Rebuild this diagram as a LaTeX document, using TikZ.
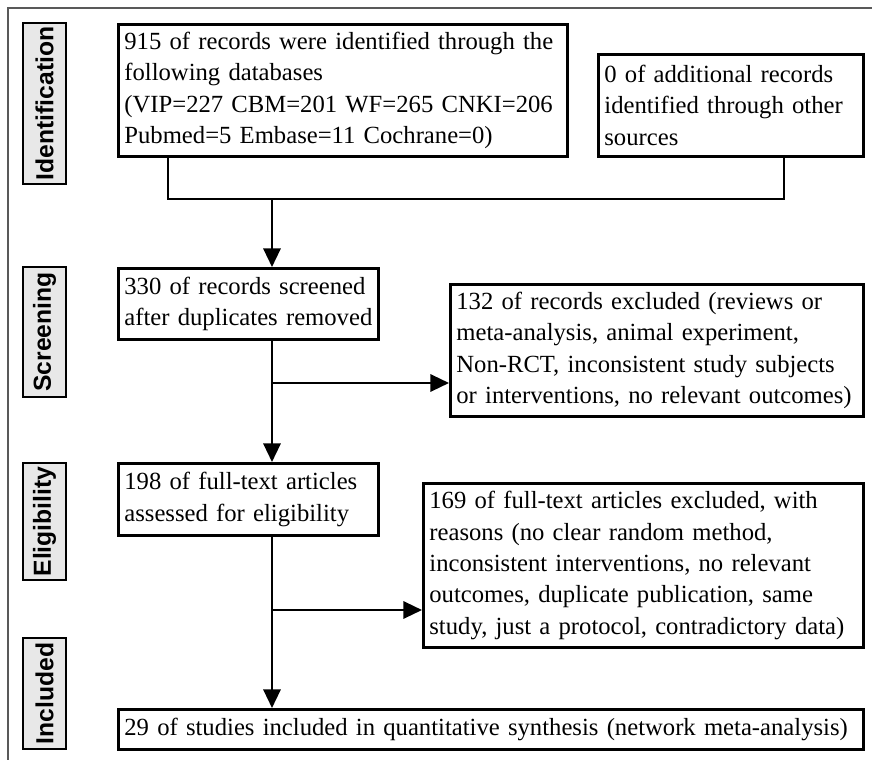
\documentclass[tikz,border=0pt]{standalone}
\usepackage{fontspec}
\setmainfont{Liberation Serif}
\setsansfont{Liberation Sans}
\usetikzlibrary{arrows.meta}

\begin{document}
\begin{tikzpicture}[x=0.75pt,y=-0.75pt,
  box/.style={draw,line width=2.1pt,anchor=north west,align=left,inner xsep=4.5pt,inner ysep=0pt,
    font=\fontsize{18.5}{23.5}\selectfont},
  phase/.style={draw,line width=2.1pt,fill=gray!18,rotate=90,inner sep=0pt,minimum height=32.25pt,
    font=\fontsize{18.5}{20}\selectfont\sffamily\bfseries},
  conn/.style={line width=1.7pt},
  arr/.style={conn,-{Triangle[length=14pt,width=13pt]}}]
\useasboundingbox (0,0) rectangle (872,760);
\draw[gray!70!black,line width=1pt] (8,760)--(8,8)--(872,8);
% phase labels
\node[phase,minimum width=120.75pt] (pid) at (44.5,103.5) {Identification};
\node[phase,minimum width=97.5pt] (pscr) at (44.5,332) {Screening};
\node[phase,minimum width=87.75pt] (pelig) at (44.5,521.5) {Eligibility};
\node[phase,minimum width=83.25pt] (pincl) at (44.5,693.5) {Included};
% boxes
\node[box,text width=327.75pt,minimum height=99pt] (id1) at (117,23)
  {915 of records were identified through the\\following databases\\(VIP=227 CBM=201 WF=265 CNKI=206\\Pubmed=5 Embase=11 Cochrane=0)};
\node[box,text width=189.75pt,minimum height=76.5pt] (id2) at (597,53)
  {0 of additional records\\identified through other\\sources};
\node[box,text width=186pt,minimum height=53.25pt] (scr) at (117,267)
  {330 of records screened\\after duplicates removed};
\node[box,text width=300.75pt,minimum height=99pt] (ex1) at (449,283)
  {132 of records excluded (reviews or\\meta-analysis, animal experiment,\\Non-RCT, inconsistent study subjects\\or interventions, no relevant outcomes)};
\node[box,text width=186pt,minimum height=54pt] (elig) at (117,462)
  {198 of full-text articles\\assessed for eligibility};
\node[box,text width=321pt,minimum height=123pt] (ex2) at (422,482)
  {169 of full-text articles excluded, with\\reasons (no clear random method,\\inconsistent interventions, no relevant\\outcomes, duplicate publication, same\\study, just a protocol, contradictory data)};
\node[box,text width=549.75pt,minimum height=30pt] (incl) at (117,708)
  {29 of studies included in quantitative synthesis (network meta-analysis)};
% connectors
\coordinate (t1) at (168,199);
\coordinate (t2) at (784,199);
\coordinate (trunk) at (272,199);
\coordinate (b1) at (272,383);
\coordinate (b2) at (272,610);
\draw[conn] (id1.south -| t1) -- (t1) -- (t2) -- (id2.south -| t2);
\draw[arr] (trunk) -- (scr.north -| trunk);
\draw[arr] (scr.south -| trunk) -- (elig.north -| trunk);
\draw[arr] (b1) -- (ex1.west |- b1);
\draw[arr] (elig.south -| trunk) -- (incl.north -| trunk);
\draw[arr] (b2) -- (ex2.west |- b2);
\end{tikzpicture}
\end{document}
